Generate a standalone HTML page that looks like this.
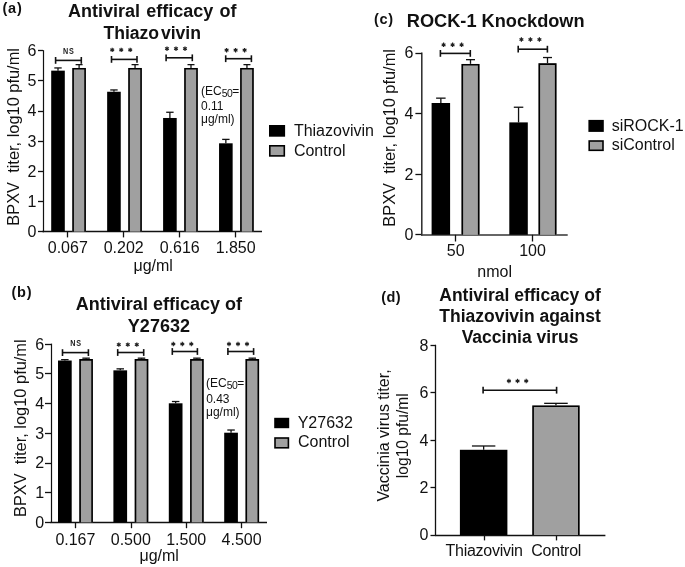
<!DOCTYPE html>
<html><head><meta charset="utf-8"><style>
html,body{margin:0;padding:0;background:#fff;}
svg{display:block;font-family:"Liberation Sans", sans-serif;will-change:transform;}
</style></head><body>
<svg width="685" height="567" viewBox="0 0 685 567">
<rect width="685" height="567" fill="#fff"/>
<text x="2.60" y="12.80" font-size="14.5" font-weight="bold" text-anchor="start" fill="#111" letter-spacing="0.7">(a)</text>
<text x="68.00" y="17.20" font-size="18" font-weight="bold" text-anchor="start" fill="#111" word-spacing="1.2">Antiviral efficacy of</text>
<text x="103.40" y="38.90" font-size="17.6" font-weight="bold" text-anchor="start" fill="#111">Thiazo<tspan dx="1.8">vivin</tspan></text>
<line x1="43.50" y1="50.15" x2="43.50" y2="232.25" stroke="#111" stroke-width="1.2"/>
<line x1="38.00" y1="231.50" x2="43.00" y2="231.50" stroke="#111" stroke-width="1.3"/>
<text x="36.30" y="236.95" font-size="16" font-weight="normal" text-anchor="end" fill="#111">0</text>
<line x1="38.00" y1="201.50" x2="43.00" y2="201.50" stroke="#111" stroke-width="1.3"/>
<text x="36.30" y="206.80" font-size="16" font-weight="normal" text-anchor="end" fill="#111">1</text>
<line x1="38.00" y1="171.50" x2="43.00" y2="171.50" stroke="#111" stroke-width="1.3"/>
<text x="36.30" y="176.65" font-size="16" font-weight="normal" text-anchor="end" fill="#111">2</text>
<line x1="38.00" y1="141.50" x2="43.00" y2="141.50" stroke="#111" stroke-width="1.3"/>
<text x="36.30" y="146.50" font-size="16" font-weight="normal" text-anchor="end" fill="#111">3</text>
<line x1="38.00" y1="111.50" x2="43.00" y2="111.50" stroke="#111" stroke-width="1.3"/>
<text x="36.30" y="116.35" font-size="16" font-weight="normal" text-anchor="end" fill="#111">4</text>
<line x1="38.00" y1="80.50" x2="43.00" y2="80.50" stroke="#111" stroke-width="1.3"/>
<text x="36.30" y="86.20" font-size="16" font-weight="normal" text-anchor="end" fill="#111">5</text>
<line x1="38.00" y1="50.50" x2="43.00" y2="50.50" stroke="#111" stroke-width="1.3"/>
<text x="36.30" y="56.05" font-size="16" font-weight="normal" text-anchor="end" fill="#111">6</text>
<line x1="42.40" y1="231.50" x2="262.00" y2="231.50" stroke="#111" stroke-width="1.3"/>
<line x1="67.50" y1="231.65" x2="67.50" y2="237.40" stroke="#111" stroke-width="1.3"/>
<line x1="58.00" y1="70.65" x2="58.00" y2="67.94" stroke="#111" stroke-width="1.3"/>
<line x1="54.30" y1="67.94" x2="61.70" y2="67.94" stroke="#111" stroke-width="1.3"/>
<rect x="51.20" y="70.65" width="13.60" height="161.00" fill="#000"/>
<line x1="79.10" y1="67.94" x2="79.10" y2="64.62" stroke="#111" stroke-width="1.3"/>
<line x1="75.60" y1="64.62" x2="82.60" y2="64.62" stroke="#111" stroke-width="1.3"/>
<rect x="72.30" y="67.94" width="13.60" height="163.71" fill="#a0a0a0"/>
<path d="M73.10 231.65 V68.74 H85.10 V231.65" fill="none" stroke="#000" stroke-width="1.6"/>
<text x="67.80" y="253.40" font-size="16" font-weight="normal" text-anchor="middle" fill="#111">0.067</text>
<line x1="123.50" y1="231.65" x2="123.50" y2="237.40" stroke="#111" stroke-width="1.3"/>
<line x1="113.95" y1="91.75" x2="113.95" y2="89.95" stroke="#111" stroke-width="1.3"/>
<line x1="110.25" y1="89.95" x2="117.65" y2="89.95" stroke="#111" stroke-width="1.3"/>
<rect x="107.15" y="91.75" width="13.60" height="139.90" fill="#000"/>
<line x1="135.05" y1="67.94" x2="135.05" y2="64.62" stroke="#111" stroke-width="1.3"/>
<line x1="131.55" y1="64.62" x2="138.55" y2="64.62" stroke="#111" stroke-width="1.3"/>
<rect x="128.25" y="67.94" width="13.60" height="163.71" fill="#a0a0a0"/>
<path d="M129.05 231.65 V68.74 H141.05 V231.65" fill="none" stroke="#000" stroke-width="1.6"/>
<text x="123.75" y="253.40" font-size="16" font-weight="normal" text-anchor="middle" fill="#111">0.202</text>
<line x1="179.50" y1="231.65" x2="179.50" y2="237.40" stroke="#111" stroke-width="1.3"/>
<line x1="169.90" y1="117.98" x2="169.90" y2="112.26" stroke="#111" stroke-width="1.3"/>
<line x1="166.20" y1="112.26" x2="173.60" y2="112.26" stroke="#111" stroke-width="1.3"/>
<rect x="163.10" y="117.98" width="13.60" height="113.67" fill="#000"/>
<line x1="191.00" y1="67.94" x2="191.00" y2="64.62" stroke="#111" stroke-width="1.3"/>
<line x1="187.50" y1="64.62" x2="194.50" y2="64.62" stroke="#111" stroke-width="1.3"/>
<rect x="184.20" y="67.94" width="13.60" height="163.71" fill="#a0a0a0"/>
<path d="M185.00 231.65 V68.74 H197.00 V231.65" fill="none" stroke="#000" stroke-width="1.6"/>
<text x="179.70" y="253.40" font-size="16" font-weight="normal" text-anchor="middle" fill="#111">0.616</text>
<line x1="235.50" y1="231.65" x2="235.50" y2="237.40" stroke="#111" stroke-width="1.3"/>
<line x1="225.85" y1="143.31" x2="225.85" y2="139.39" stroke="#111" stroke-width="1.3"/>
<line x1="222.15" y1="139.39" x2="229.55" y2="139.39" stroke="#111" stroke-width="1.3"/>
<rect x="219.05" y="143.31" width="13.60" height="88.34" fill="#000"/>
<line x1="246.95" y1="67.94" x2="246.95" y2="64.62" stroke="#111" stroke-width="1.3"/>
<line x1="243.45" y1="64.62" x2="250.45" y2="64.62" stroke="#111" stroke-width="1.3"/>
<rect x="240.15" y="67.94" width="13.60" height="163.71" fill="#a0a0a0"/>
<path d="M240.95 231.65 V68.74 H252.95 V231.65" fill="none" stroke="#000" stroke-width="1.6"/>
<text x="235.65" y="253.40" font-size="16" font-weight="normal" text-anchor="middle" fill="#111">1.850</text>
<line x1="55.60" y1="60.40" x2="81.30" y2="60.40" stroke="#111" stroke-width="1.6"/>
<line x1="55.60" y1="57.00" x2="55.60" y2="63.80" stroke="#111" stroke-width="1.6"/>
<line x1="81.30" y1="57.00" x2="81.30" y2="63.80" stroke="#111" stroke-width="1.6"/>
<text x="63.00" y="53.60" font-size="8.5" font-weight="bold" fill="#222" letter-spacing="0.9" transform="translate(63.00 53.60) scale(0.85 1) translate(-63.00 -53.60)">NS</text>
<line x1="111.50" y1="59.40" x2="137.00" y2="59.40" stroke="#111" stroke-width="1.6"/>
<line x1="111.50" y1="56.00" x2="111.50" y2="62.80" stroke="#111" stroke-width="1.6"/>
<line x1="137.00" y1="56.00" x2="137.00" y2="62.80" stroke="#111" stroke-width="1.6"/>
<circle cx="112.20" cy="49.90" r="1.1" fill="#222"/>
<line x1="112.20" y1="47.70" x2="112.20" y2="52.10" stroke="#222" stroke-width="1.2"/>
<line x1="110.29" y1="48.80" x2="114.11" y2="51.00" stroke="#222" stroke-width="1.2"/>
<line x1="110.29" y1="51.00" x2="114.11" y2="48.80" stroke="#222" stroke-width="1.2"/>
<circle cx="121.20" cy="49.90" r="1.1" fill="#222"/>
<line x1="121.20" y1="47.70" x2="121.20" y2="52.10" stroke="#222" stroke-width="1.2"/>
<line x1="119.29" y1="48.80" x2="123.11" y2="51.00" stroke="#222" stroke-width="1.2"/>
<line x1="119.29" y1="51.00" x2="123.11" y2="48.80" stroke="#222" stroke-width="1.2"/>
<circle cx="130.20" cy="49.90" r="1.1" fill="#222"/>
<line x1="130.20" y1="47.70" x2="130.20" y2="52.10" stroke="#222" stroke-width="1.2"/>
<line x1="128.29" y1="48.80" x2="132.11" y2="51.00" stroke="#222" stroke-width="1.2"/>
<line x1="128.29" y1="51.00" x2="132.11" y2="48.80" stroke="#222" stroke-width="1.2"/>
<line x1="166.10" y1="57.80" x2="192.30" y2="57.80" stroke="#111" stroke-width="1.6"/>
<line x1="166.10" y1="54.40" x2="166.10" y2="61.20" stroke="#111" stroke-width="1.6"/>
<line x1="192.30" y1="54.40" x2="192.30" y2="61.20" stroke="#111" stroke-width="1.6"/>
<circle cx="167.00" cy="48.70" r="1.1" fill="#222"/>
<line x1="167.00" y1="46.50" x2="167.00" y2="50.90" stroke="#222" stroke-width="1.2"/>
<line x1="165.09" y1="47.60" x2="168.91" y2="49.80" stroke="#222" stroke-width="1.2"/>
<line x1="165.09" y1="49.80" x2="168.91" y2="47.60" stroke="#222" stroke-width="1.2"/>
<circle cx="176.00" cy="48.70" r="1.1" fill="#222"/>
<line x1="176.00" y1="46.50" x2="176.00" y2="50.90" stroke="#222" stroke-width="1.2"/>
<line x1="174.09" y1="47.60" x2="177.91" y2="49.80" stroke="#222" stroke-width="1.2"/>
<line x1="174.09" y1="49.80" x2="177.91" y2="47.60" stroke="#222" stroke-width="1.2"/>
<circle cx="185.00" cy="48.70" r="1.1" fill="#222"/>
<line x1="185.00" y1="46.50" x2="185.00" y2="50.90" stroke="#222" stroke-width="1.2"/>
<line x1="183.09" y1="47.60" x2="186.91" y2="49.80" stroke="#222" stroke-width="1.2"/>
<line x1="183.09" y1="49.80" x2="186.91" y2="47.60" stroke="#222" stroke-width="1.2"/>
<line x1="225.70" y1="58.70" x2="251.40" y2="58.70" stroke="#111" stroke-width="1.6"/>
<line x1="225.70" y1="55.30" x2="225.70" y2="62.10" stroke="#111" stroke-width="1.6"/>
<line x1="251.40" y1="55.30" x2="251.40" y2="62.10" stroke="#111" stroke-width="1.6"/>
<circle cx="226.60" cy="50.20" r="1.1" fill="#222"/>
<line x1="226.60" y1="48.00" x2="226.60" y2="52.40" stroke="#222" stroke-width="1.2"/>
<line x1="224.69" y1="49.10" x2="228.51" y2="51.30" stroke="#222" stroke-width="1.2"/>
<line x1="224.69" y1="51.30" x2="228.51" y2="49.10" stroke="#222" stroke-width="1.2"/>
<circle cx="235.60" cy="50.20" r="1.1" fill="#222"/>
<line x1="235.60" y1="48.00" x2="235.60" y2="52.40" stroke="#222" stroke-width="1.2"/>
<line x1="233.69" y1="49.10" x2="237.51" y2="51.30" stroke="#222" stroke-width="1.2"/>
<line x1="233.69" y1="51.30" x2="237.51" y2="49.10" stroke="#222" stroke-width="1.2"/>
<circle cx="244.60" cy="50.20" r="1.1" fill="#222"/>
<line x1="244.60" y1="48.00" x2="244.60" y2="52.40" stroke="#222" stroke-width="1.2"/>
<line x1="242.69" y1="49.10" x2="246.51" y2="51.30" stroke="#222" stroke-width="1.2"/>
<line x1="242.69" y1="51.30" x2="246.51" y2="49.10" stroke="#222" stroke-width="1.2"/>
<text x="153.20" y="270.50" font-size="16" font-weight="normal" text-anchor="middle" fill="#111">μg/ml</text>
<text x="18.90" y="225.70" font-size="16.4" font-weight="normal" text-anchor="start" fill="#111" transform="rotate(-90 18.90 225.70)">BPXV&#160;&#160;titer, log10 pfu/ml</text>
<text x="201.0" y="94.6" font-size="12" fill="#111">(EC<tspan font-size="10.4" letter-spacing="-0.5" dy="2.4">50</tspan><tspan dy="-2.4">=</tspan></text>
<text x="201.00" y="109.50" font-size="12" font-weight="normal" text-anchor="start" fill="#111">0.11</text>
<text x="201.00" y="123.00" font-size="12" font-weight="normal" text-anchor="start" fill="#111">μg/ml)</text>
<rect x="269.00" y="125.00" width="16.10" height="11.70" fill="#000"/>
<rect x="269.80" y="145.80" width="14.50" height="10.10" fill="#a0a0a0" stroke="#000" stroke-width="1.6"/>
<text x="293.90" y="136.00" font-size="16" font-weight="normal" text-anchor="start" fill="#111">Thiazovivin</text>
<text x="293.90" y="155.70" font-size="16" font-weight="normal" text-anchor="start" fill="#111">Control</text>
<text x="374.00" y="24.10" font-size="14.5" font-weight="bold" text-anchor="start" fill="#111" letter-spacing="0.7">(c)</text>
<text x="406.80" y="26.90" font-size="18.2" font-weight="bold" text-anchor="start" fill="#111">ROCK-1 Knockdown</text>
<line x1="421.80" y1="52.40" x2="421.80" y2="235.40" stroke="#2a2a2a" stroke-width="1.5"/>
<line x1="415.40" y1="234.50" x2="421.80" y2="234.50" stroke="#111" stroke-width="1.3"/>
<text x="413.40" y="240.10" font-size="16" font-weight="normal" text-anchor="end" fill="#111">0</text>
<line x1="415.40" y1="174.50" x2="421.80" y2="174.50" stroke="#111" stroke-width="1.3"/>
<text x="413.40" y="179.50" font-size="16" font-weight="normal" text-anchor="end" fill="#111">2</text>
<line x1="415.40" y1="113.50" x2="421.80" y2="113.50" stroke="#111" stroke-width="1.3"/>
<text x="413.40" y="118.90" font-size="16" font-weight="normal" text-anchor="end" fill="#111">4</text>
<line x1="415.40" y1="53.50" x2="421.80" y2="53.50" stroke="#111" stroke-width="1.3"/>
<text x="413.40" y="58.30" font-size="16" font-weight="normal" text-anchor="end" fill="#111">6</text>
<line x1="421.00" y1="235.00" x2="567.70" y2="235.00" stroke="#333" stroke-width="1.5"/>
<line x1="455.50" y1="234.80" x2="455.50" y2="241.50" stroke="#111" stroke-width="1.3"/>
<line x1="440.85" y1="103.00" x2="440.85" y2="98.15" stroke="#111" stroke-width="1.3"/>
<line x1="436.10" y1="98.15" x2="445.60" y2="98.15" stroke="#111" stroke-width="1.3"/>
<rect x="431.60" y="103.00" width="18.50" height="131.80" fill="#000"/>
<line x1="470.50" y1="63.91" x2="470.50" y2="59.67" stroke="#111" stroke-width="1.3"/>
<line x1="466.00" y1="59.67" x2="475.00" y2="59.67" stroke="#111" stroke-width="1.3"/>
<rect x="461.50" y="63.91" width="18.00" height="170.89" fill="#a0a0a0"/>
<path d="M462.30 234.80 V64.71 H478.70 V234.80" fill="none" stroke="#000" stroke-width="1.6"/>
<text x="455.70" y="256.00" font-size="16" font-weight="normal" text-anchor="middle" fill="#111">50</text>
<line x1="532.50" y1="234.80" x2="532.50" y2="241.50" stroke="#111" stroke-width="1.3"/>
<line x1="518.55" y1="122.39" x2="518.55" y2="107.24" stroke="#111" stroke-width="1.3"/>
<line x1="513.80" y1="107.24" x2="523.30" y2="107.24" stroke="#111" stroke-width="1.3"/>
<rect x="509.30" y="122.39" width="18.50" height="112.41" fill="#000"/>
<line x1="547.50" y1="63.30" x2="547.50" y2="57.54" stroke="#111" stroke-width="1.3"/>
<line x1="543.00" y1="57.54" x2="552.00" y2="57.54" stroke="#111" stroke-width="1.3"/>
<rect x="538.50" y="63.30" width="18.00" height="171.50" fill="#a0a0a0"/>
<path d="M539.30 234.80 V64.10 H555.70 V234.80" fill="none" stroke="#000" stroke-width="1.6"/>
<text x="532.50" y="256.00" font-size="16" font-weight="normal" text-anchor="middle" fill="#111">100</text>
<line x1="440.40" y1="53.40" x2="470.30" y2="53.40" stroke="#111" stroke-width="1.6"/>
<line x1="440.40" y1="50.00" x2="440.40" y2="56.80" stroke="#111" stroke-width="1.6"/>
<line x1="470.30" y1="50.00" x2="470.30" y2="56.80" stroke="#111" stroke-width="1.6"/>
<circle cx="443.60" cy="44.80" r="1.1" fill="#222"/>
<line x1="443.60" y1="42.60" x2="443.60" y2="47.00" stroke="#222" stroke-width="1.2"/>
<line x1="441.69" y1="43.70" x2="445.51" y2="45.90" stroke="#222" stroke-width="1.2"/>
<line x1="441.69" y1="45.90" x2="445.51" y2="43.70" stroke="#222" stroke-width="1.2"/>
<circle cx="452.60" cy="44.80" r="1.1" fill="#222"/>
<line x1="452.60" y1="42.60" x2="452.60" y2="47.00" stroke="#222" stroke-width="1.2"/>
<line x1="450.69" y1="43.70" x2="454.51" y2="45.90" stroke="#222" stroke-width="1.2"/>
<line x1="450.69" y1="45.90" x2="454.51" y2="43.70" stroke="#222" stroke-width="1.2"/>
<circle cx="461.60" cy="44.80" r="1.1" fill="#222"/>
<line x1="461.60" y1="42.60" x2="461.60" y2="47.00" stroke="#222" stroke-width="1.2"/>
<line x1="459.69" y1="43.70" x2="463.51" y2="45.90" stroke="#222" stroke-width="1.2"/>
<line x1="459.69" y1="45.90" x2="463.51" y2="43.70" stroke="#222" stroke-width="1.2"/>
<line x1="518.20" y1="49.20" x2="547.40" y2="49.20" stroke="#111" stroke-width="1.6"/>
<line x1="518.20" y1="45.80" x2="518.20" y2="52.60" stroke="#111" stroke-width="1.6"/>
<line x1="547.40" y1="45.80" x2="547.40" y2="52.60" stroke="#111" stroke-width="1.6"/>
<circle cx="521.40" cy="39.50" r="1.1" fill="#222"/>
<line x1="521.40" y1="37.30" x2="521.40" y2="41.70" stroke="#222" stroke-width="1.2"/>
<line x1="519.49" y1="38.40" x2="523.31" y2="40.60" stroke="#222" stroke-width="1.2"/>
<line x1="519.49" y1="40.60" x2="523.31" y2="38.40" stroke="#222" stroke-width="1.2"/>
<circle cx="530.40" cy="39.50" r="1.1" fill="#222"/>
<line x1="530.40" y1="37.30" x2="530.40" y2="41.70" stroke="#222" stroke-width="1.2"/>
<line x1="528.49" y1="38.40" x2="532.31" y2="40.60" stroke="#222" stroke-width="1.2"/>
<line x1="528.49" y1="40.60" x2="532.31" y2="38.40" stroke="#222" stroke-width="1.2"/>
<circle cx="539.40" cy="39.50" r="1.1" fill="#222"/>
<line x1="539.40" y1="37.30" x2="539.40" y2="41.70" stroke="#222" stroke-width="1.2"/>
<line x1="537.49" y1="38.40" x2="541.31" y2="40.60" stroke="#222" stroke-width="1.2"/>
<line x1="537.49" y1="40.60" x2="541.31" y2="38.40" stroke="#222" stroke-width="1.2"/>
<text x="494.70" y="276.50" font-size="16" font-weight="normal" text-anchor="middle" fill="#111">nmol</text>
<text x="395.50" y="226.70" font-size="16.4" font-weight="normal" text-anchor="start" fill="#111" transform="rotate(-90 395.50 226.70)">BPXV&#160;&#160;titer, log10 pfu/ml</text>
<rect x="588.40" y="119.90" width="15.40" height="12.00" fill="#000"/>
<rect x="589.20" y="141.00" width="13.80" height="9.30" fill="#a0a0a0" stroke="#000" stroke-width="1.6"/>
<text x="611.70" y="130.80" font-size="16" font-weight="normal" text-anchor="start" fill="#111">siROCK-1</text>
<text x="611.70" y="149.90" font-size="16" font-weight="normal" text-anchor="start" fill="#111">siControl</text>
<text x="11.60" y="296.70" font-size="14.5" font-weight="bold" text-anchor="start" fill="#111" letter-spacing="0.7">(b)</text>
<text x="158.90" y="309.80" font-size="18" font-weight="bold" text-anchor="middle" fill="#111">Antiviral efficacy of</text>
<text x="158.90" y="331.70" font-size="18" font-weight="bold" text-anchor="middle" fill="#111">Y27632</text>
<line x1="51.50" y1="343.60" x2="51.50" y2="523.00" stroke="#111" stroke-width="1.2"/>
<line x1="45.00" y1="522.50" x2="51.00" y2="522.50" stroke="#111" stroke-width="1.3"/>
<text x="44.20" y="527.70" font-size="16" font-weight="normal" text-anchor="end" fill="#111">0</text>
<line x1="45.00" y1="492.50" x2="51.00" y2="492.50" stroke="#111" stroke-width="1.3"/>
<text x="44.20" y="498.00" font-size="16" font-weight="normal" text-anchor="end" fill="#111">1</text>
<line x1="45.00" y1="463.50" x2="51.00" y2="463.50" stroke="#111" stroke-width="1.3"/>
<text x="44.20" y="468.30" font-size="16" font-weight="normal" text-anchor="end" fill="#111">2</text>
<line x1="45.00" y1="433.50" x2="51.00" y2="433.50" stroke="#111" stroke-width="1.3"/>
<text x="44.20" y="438.60" font-size="16" font-weight="normal" text-anchor="end" fill="#111">3</text>
<line x1="45.00" y1="403.50" x2="51.00" y2="403.50" stroke="#111" stroke-width="1.3"/>
<text x="44.20" y="408.90" font-size="16" font-weight="normal" text-anchor="end" fill="#111">4</text>
<line x1="45.00" y1="373.50" x2="51.00" y2="373.50" stroke="#111" stroke-width="1.3"/>
<text x="44.20" y="379.20" font-size="16" font-weight="normal" text-anchor="end" fill="#111">5</text>
<line x1="45.00" y1="344.50" x2="51.00" y2="344.50" stroke="#111" stroke-width="1.3"/>
<text x="44.20" y="349.50" font-size="16" font-weight="normal" text-anchor="end" fill="#111">6</text>
<line x1="50.40" y1="522.50" x2="267.00" y2="522.50" stroke="#111" stroke-width="1.3"/>
<line x1="75.50" y1="522.40" x2="75.50" y2="528.20" stroke="#111" stroke-width="1.3"/>
<line x1="64.85" y1="360.53" x2="64.85" y2="359.64" stroke="#111" stroke-width="1.3"/>
<line x1="61.10" y1="359.64" x2="68.60" y2="359.64" stroke="#111" stroke-width="1.3"/>
<rect x="58.00" y="360.53" width="13.70" height="161.87" fill="#000"/>
<line x1="86.10" y1="359.05" x2="86.10" y2="358.16" stroke="#111" stroke-width="1.3"/>
<line x1="82.35" y1="358.16" x2="89.85" y2="358.16" stroke="#111" stroke-width="1.3"/>
<rect x="79.30" y="359.05" width="13.60" height="163.35" fill="#a0a0a0"/>
<path d="M80.10 522.40 V359.85 H92.10 V522.40" fill="none" stroke="#000" stroke-width="1.6"/>
<text x="75.40" y="544.70" font-size="16" font-weight="normal" text-anchor="middle" fill="#111">0.167</text>
<line x1="131.50" y1="522.40" x2="131.50" y2="528.20" stroke="#111" stroke-width="1.3"/>
<line x1="120.25" y1="370.34" x2="120.25" y2="368.85" stroke="#111" stroke-width="1.3"/>
<line x1="116.50" y1="368.85" x2="124.00" y2="368.85" stroke="#111" stroke-width="1.3"/>
<rect x="113.40" y="370.34" width="13.70" height="152.06" fill="#000"/>
<line x1="141.50" y1="359.05" x2="141.50" y2="358.16" stroke="#111" stroke-width="1.3"/>
<line x1="137.75" y1="358.16" x2="145.25" y2="358.16" stroke="#111" stroke-width="1.3"/>
<rect x="134.70" y="359.05" width="13.60" height="163.35" fill="#a0a0a0"/>
<path d="M135.50 522.40 V359.85 H147.50 V522.40" fill="none" stroke="#000" stroke-width="1.6"/>
<text x="130.80" y="544.70" font-size="16" font-weight="normal" text-anchor="middle" fill="#111">0.500</text>
<line x1="186.50" y1="522.40" x2="186.50" y2="528.20" stroke="#111" stroke-width="1.3"/>
<line x1="175.65" y1="403.30" x2="175.65" y2="401.52" stroke="#111" stroke-width="1.3"/>
<line x1="171.90" y1="401.52" x2="179.40" y2="401.52" stroke="#111" stroke-width="1.3"/>
<rect x="168.80" y="403.30" width="13.70" height="119.10" fill="#000"/>
<line x1="196.90" y1="359.05" x2="196.90" y2="358.16" stroke="#111" stroke-width="1.3"/>
<line x1="193.15" y1="358.16" x2="200.65" y2="358.16" stroke="#111" stroke-width="1.3"/>
<rect x="190.10" y="359.05" width="13.60" height="163.35" fill="#a0a0a0"/>
<path d="M190.90 522.40 V359.85 H202.90 V522.40" fill="none" stroke="#000" stroke-width="1.6"/>
<text x="186.20" y="544.70" font-size="16" font-weight="normal" text-anchor="middle" fill="#111">1.500</text>
<line x1="241.50" y1="522.40" x2="241.50" y2="528.20" stroke="#111" stroke-width="1.3"/>
<line x1="231.05" y1="432.71" x2="231.05" y2="430.03" stroke="#111" stroke-width="1.3"/>
<line x1="227.30" y1="430.03" x2="234.80" y2="430.03" stroke="#111" stroke-width="1.3"/>
<rect x="224.20" y="432.71" width="13.70" height="89.69" fill="#000"/>
<line x1="252.30" y1="359.05" x2="252.30" y2="358.16" stroke="#111" stroke-width="1.3"/>
<line x1="248.55" y1="358.16" x2="256.05" y2="358.16" stroke="#111" stroke-width="1.3"/>
<rect x="245.50" y="359.05" width="13.60" height="163.35" fill="#a0a0a0"/>
<path d="M246.30 522.40 V359.85 H258.30 V522.40" fill="none" stroke="#000" stroke-width="1.6"/>
<text x="241.60" y="544.70" font-size="16" font-weight="normal" text-anchor="middle" fill="#111">4.500</text>
<line x1="62.50" y1="352.60" x2="88.40" y2="352.60" stroke="#111" stroke-width="1.6"/>
<line x1="62.50" y1="349.20" x2="62.50" y2="356.00" stroke="#111" stroke-width="1.6"/>
<line x1="88.40" y1="349.20" x2="88.40" y2="356.00" stroke="#111" stroke-width="1.6"/>
<text x="70.20" y="346.20" font-size="8.5" font-weight="bold" fill="#222" letter-spacing="0.9" transform="translate(70.20 346.20) scale(0.85 1) translate(-70.20 -346.20)">NS</text>
<line x1="117.70" y1="352.50" x2="143.70" y2="352.50" stroke="#111" stroke-width="1.6"/>
<line x1="117.70" y1="349.10" x2="117.70" y2="355.90" stroke="#111" stroke-width="1.6"/>
<line x1="143.70" y1="349.10" x2="143.70" y2="355.90" stroke="#111" stroke-width="1.6"/>
<circle cx="118.80" cy="344.60" r="1.1" fill="#222"/>
<line x1="118.80" y1="342.40" x2="118.80" y2="346.80" stroke="#222" stroke-width="1.2"/>
<line x1="116.89" y1="343.50" x2="120.71" y2="345.70" stroke="#222" stroke-width="1.2"/>
<line x1="116.89" y1="345.70" x2="120.71" y2="343.50" stroke="#222" stroke-width="1.2"/>
<circle cx="127.80" cy="344.60" r="1.1" fill="#222"/>
<line x1="127.80" y1="342.40" x2="127.80" y2="346.80" stroke="#222" stroke-width="1.2"/>
<line x1="125.89" y1="343.50" x2="129.71" y2="345.70" stroke="#222" stroke-width="1.2"/>
<line x1="125.89" y1="345.70" x2="129.71" y2="343.50" stroke="#222" stroke-width="1.2"/>
<circle cx="136.80" cy="344.60" r="1.1" fill="#222"/>
<line x1="136.80" y1="342.40" x2="136.80" y2="346.80" stroke="#222" stroke-width="1.2"/>
<line x1="134.89" y1="343.50" x2="138.71" y2="345.70" stroke="#222" stroke-width="1.2"/>
<line x1="134.89" y1="345.70" x2="138.71" y2="343.50" stroke="#222" stroke-width="1.2"/>
<line x1="172.30" y1="351.50" x2="197.40" y2="351.50" stroke="#111" stroke-width="1.6"/>
<line x1="172.30" y1="348.10" x2="172.30" y2="354.90" stroke="#111" stroke-width="1.6"/>
<line x1="197.40" y1="348.10" x2="197.40" y2="354.90" stroke="#111" stroke-width="1.6"/>
<circle cx="173.30" cy="344.00" r="1.1" fill="#222"/>
<line x1="173.30" y1="341.80" x2="173.30" y2="346.20" stroke="#222" stroke-width="1.2"/>
<line x1="171.39" y1="342.90" x2="175.21" y2="345.10" stroke="#222" stroke-width="1.2"/>
<line x1="171.39" y1="345.10" x2="175.21" y2="342.90" stroke="#222" stroke-width="1.2"/>
<circle cx="182.30" cy="344.00" r="1.1" fill="#222"/>
<line x1="182.30" y1="341.80" x2="182.30" y2="346.20" stroke="#222" stroke-width="1.2"/>
<line x1="180.39" y1="342.90" x2="184.21" y2="345.10" stroke="#222" stroke-width="1.2"/>
<line x1="180.39" y1="345.10" x2="184.21" y2="342.90" stroke="#222" stroke-width="1.2"/>
<circle cx="191.30" cy="344.00" r="1.1" fill="#222"/>
<line x1="191.30" y1="341.80" x2="191.30" y2="346.20" stroke="#222" stroke-width="1.2"/>
<line x1="189.39" y1="342.90" x2="193.21" y2="345.10" stroke="#222" stroke-width="1.2"/>
<line x1="189.39" y1="345.10" x2="193.21" y2="342.90" stroke="#222" stroke-width="1.2"/>
<line x1="227.90" y1="351.50" x2="253.60" y2="351.50" stroke="#111" stroke-width="1.6"/>
<line x1="227.90" y1="348.10" x2="227.90" y2="354.90" stroke="#111" stroke-width="1.6"/>
<line x1="253.60" y1="348.10" x2="253.60" y2="354.90" stroke="#111" stroke-width="1.6"/>
<circle cx="229.00" cy="344.00" r="1.1" fill="#222"/>
<line x1="229.00" y1="341.80" x2="229.00" y2="346.20" stroke="#222" stroke-width="1.2"/>
<line x1="227.09" y1="342.90" x2="230.91" y2="345.10" stroke="#222" stroke-width="1.2"/>
<line x1="227.09" y1="345.10" x2="230.91" y2="342.90" stroke="#222" stroke-width="1.2"/>
<circle cx="238.00" cy="344.00" r="1.1" fill="#222"/>
<line x1="238.00" y1="341.80" x2="238.00" y2="346.20" stroke="#222" stroke-width="1.2"/>
<line x1="236.09" y1="342.90" x2="239.91" y2="345.10" stroke="#222" stroke-width="1.2"/>
<line x1="236.09" y1="345.10" x2="239.91" y2="342.90" stroke="#222" stroke-width="1.2"/>
<circle cx="247.00" cy="344.00" r="1.1" fill="#222"/>
<line x1="247.00" y1="341.80" x2="247.00" y2="346.20" stroke="#222" stroke-width="1.2"/>
<line x1="245.09" y1="342.90" x2="248.91" y2="345.10" stroke="#222" stroke-width="1.2"/>
<line x1="245.09" y1="345.10" x2="248.91" y2="342.90" stroke="#222" stroke-width="1.2"/>
<text x="159.20" y="561.40" font-size="16" font-weight="normal" text-anchor="middle" fill="#111">μg/ml</text>
<text x="25.50" y="517.00" font-size="16.4" font-weight="normal" text-anchor="start" fill="#111" transform="rotate(-90 25.50 517.00)">BPXV&#160;&#160;titer, log10 pfu/ml</text>
<text x="206.0" y="386.6" font-size="12" fill="#111">(EC<tspan font-size="10.4" letter-spacing="-0.5" dy="2.4">50</tspan><tspan dy="-2.4">=</tspan></text>
<text x="206.20" y="402.70" font-size="12" font-weight="normal" text-anchor="start" fill="#111">0.43</text>
<text x="206.00" y="416.40" font-size="12" font-weight="normal" text-anchor="start" fill="#111">μg/ml)</text>
<rect x="274.20" y="417.80" width="15.00" height="10.40" fill="#000"/>
<rect x="275.00" y="438.00" width="13.40" height="9.80" fill="#a0a0a0" stroke="#000" stroke-width="1.6"/>
<text x="297.70" y="427.70" font-size="16" font-weight="normal" text-anchor="start" fill="#111">Y27632</text>
<text x="298.00" y="447.40" font-size="16" font-weight="normal" text-anchor="start" fill="#111">Control</text>
<text x="381.20" y="301.70" font-size="14.5" font-weight="bold" text-anchor="start" fill="#111" letter-spacing="0.5">(d)</text>
<text x="520.00" y="301.30" font-size="17.5" font-weight="bold" text-anchor="middle" fill="#111">Antiviral efficacy of</text>
<text x="520.00" y="322.20" font-size="17.5" font-weight="bold" text-anchor="middle" fill="#111">Thiazovivin against</text>
<text x="520.00" y="342.60" font-size="17.5" font-weight="bold" text-anchor="middle" fill="#111">Vaccinia virus</text>
<line x1="435.50" y1="344.80" x2="435.50" y2="535.10" stroke="#111" stroke-width="1.3"/>
<line x1="430.50" y1="535.50" x2="435.80" y2="535.50" stroke="#111" stroke-width="1.3"/>
<text x="428.50" y="540.40" font-size="16" font-weight="normal" text-anchor="end" fill="#111">0</text>
<line x1="430.50" y1="487.50" x2="435.80" y2="487.50" stroke="#111" stroke-width="1.3"/>
<text x="428.50" y="493.00" font-size="16" font-weight="normal" text-anchor="end" fill="#111">2</text>
<line x1="430.50" y1="440.50" x2="435.80" y2="440.50" stroke="#111" stroke-width="1.3"/>
<text x="428.50" y="445.60" font-size="16" font-weight="normal" text-anchor="end" fill="#111">4</text>
<line x1="430.50" y1="392.50" x2="435.80" y2="392.50" stroke="#111" stroke-width="1.3"/>
<text x="428.50" y="398.20" font-size="16" font-weight="normal" text-anchor="end" fill="#111">6</text>
<line x1="430.50" y1="345.50" x2="435.80" y2="345.50" stroke="#111" stroke-width="1.3"/>
<text x="428.50" y="350.80" font-size="16" font-weight="normal" text-anchor="end" fill="#111">8</text>
<line x1="435.20" y1="535.50" x2="605.40" y2="535.50" stroke="#111" stroke-width="1.3"/>
<line x1="484.50" y1="535.10" x2="484.50" y2="540.40" stroke="#111" stroke-width="1.3"/>
<text x="484.10" y="555.80" font-size="16" font-weight="normal" text-anchor="middle" fill="#111" letter-spacing="-0.25">Thiazovivin</text>
<line x1="556.50" y1="535.10" x2="556.50" y2="540.40" stroke="#111" stroke-width="1.3"/>
<text x="556.20" y="555.80" font-size="16" font-weight="normal" text-anchor="middle" fill="#111" letter-spacing="-0.25">Control</text>
<line x1="483.65" y1="449.78" x2="483.65" y2="445.99" stroke="#111" stroke-width="1.3"/>
<line x1="471.95" y1="445.99" x2="495.35" y2="445.99" stroke="#111" stroke-width="1.3"/>
<rect x="459.90" y="449.78" width="47.50" height="85.32" fill="#000"/>
<line x1="555.95" y1="405.46" x2="555.95" y2="403.33" stroke="#111" stroke-width="1.3"/>
<line x1="544.15" y1="403.33" x2="567.75" y2="403.33" stroke="#111" stroke-width="1.3"/>
<rect x="532.30" y="405.46" width="47.30" height="129.64" fill="#a0a0a0"/>
<path d="M533.10 535.10 V406.26 H578.80 V535.10" fill="none" stroke="#000" stroke-width="1.6"/>
<line x1="483.10" y1="390.20" x2="556.60" y2="390.20" stroke="#111" stroke-width="1.6"/>
<line x1="483.10" y1="386.80" x2="483.10" y2="393.60" stroke="#111" stroke-width="1.6"/>
<line x1="556.60" y1="386.80" x2="556.60" y2="393.60" stroke="#111" stroke-width="1.6"/>
<circle cx="508.90" cy="381.00" r="1.1" fill="#222"/>
<line x1="508.90" y1="378.80" x2="508.90" y2="383.20" stroke="#222" stroke-width="1.2"/>
<line x1="506.99" y1="379.90" x2="510.81" y2="382.10" stroke="#222" stroke-width="1.2"/>
<line x1="506.99" y1="382.10" x2="510.81" y2="379.90" stroke="#222" stroke-width="1.2"/>
<circle cx="517.55" cy="381.00" r="1.1" fill="#222"/>
<line x1="517.55" y1="378.80" x2="517.55" y2="383.20" stroke="#222" stroke-width="1.2"/>
<line x1="515.64" y1="379.90" x2="519.46" y2="382.10" stroke="#222" stroke-width="1.2"/>
<line x1="515.64" y1="382.10" x2="519.46" y2="379.90" stroke="#222" stroke-width="1.2"/>
<circle cx="526.20" cy="381.00" r="1.1" fill="#222"/>
<line x1="526.20" y1="378.80" x2="526.20" y2="383.20" stroke="#222" stroke-width="1.2"/>
<line x1="524.29" y1="379.90" x2="528.11" y2="382.10" stroke="#222" stroke-width="1.2"/>
<line x1="524.29" y1="382.10" x2="528.11" y2="379.90" stroke="#222" stroke-width="1.2"/>
<text x="389.30" y="435.50" font-size="16" font-weight="normal" text-anchor="middle" fill="#111" transform="rotate(-90 389.30 435.50)">Vaccinia virus titer,</text>
<text x="408.00" y="435.70" font-size="15.6" font-weight="normal" text-anchor="middle" fill="#111" transform="rotate(-90 408.00 435.70)">log10 pfu/ml</text>
</svg>
</body></html>
